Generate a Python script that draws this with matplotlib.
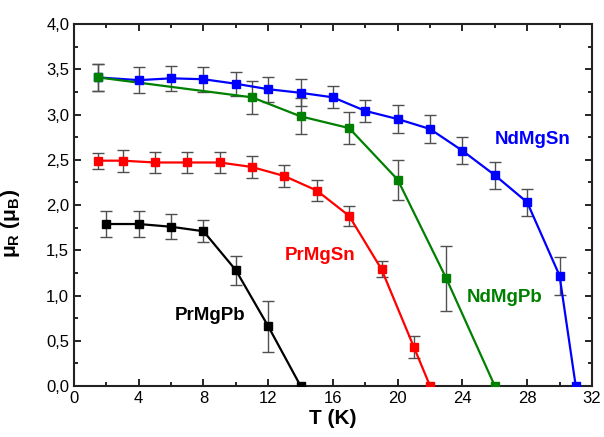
import matplotlib
matplotlib.use("Agg")
import matplotlib.pyplot as plt
from matplotlib.ticker import MultipleLocator, FuncFormatter

plt.rcParams['font.family'] = ['Liberation Sans', 'DejaVu Sans']
plt.rcParams['mathtext.fontset'] = 'custom'
plt.rcParams['mathtext.rm'] = 'Liberation Sans'
plt.rcParams['mathtext.bf'] = 'Liberation Sans:bold'

# NdMgSn (blue)
ndsn_T = [1.5, 4, 6, 8, 10, 12, 14, 16, 18, 20, 22, 24, 26, 28, 30, 31]
ndsn_m = [3.41, 3.38, 3.40, 3.39, 3.34, 3.28, 3.24, 3.19, 3.04, 2.95, 2.84, 2.60, 2.33, 2.03, 1.22, 0.0]
ndsn_e = [0.15, 0.14, 0.14, 0.14, 0.13, 0.14, 0.15, 0.12, 0.12, 0.15, 0.15, 0.15, 0.15, 0.15, 0.21, 0.0]

# NdMgPb (green)
ndpb_T = [1.5, 11, 14, 17, 20, 23, 26]
ndpb_m = [3.41, 3.19, 2.98, 2.85, 2.28, 1.19, 0.0]
ndpb_e = [0.15, 0.18, 0.20, 0.18, 0.22, 0.36, 0.0]

# PrMgSn (red)
prsn_T = [1.5, 3, 5, 7, 9, 11, 13, 15, 17, 19, 21, 22]
prsn_m = [2.49, 2.49, 2.47, 2.47, 2.47, 2.42, 2.32, 2.16, 1.88, 1.29, 0.43, 0.0]
prsn_e = [0.09, 0.12, 0.12, 0.12, 0.12, 0.12, 0.12, 0.12, 0.11, 0.09, 0.12, 0.0]

# PrMgPb (black)
prpb_T = [2, 4, 6, 8, 10, 12, 14]
prpb_m = [1.79, 1.79, 1.76, 1.71, 1.28, 0.66, 0.0]
prpb_e = [0.14, 0.14, 0.14, 0.12, 0.16, 0.28, 0.0]

series = [
    (ndsn_T, ndsn_m, ndsn_e, '#0000FF', 'NdMgSn', (28.35, 2.72)),
    (ndpb_T, ndpb_m, ndpb_e, '#008000', 'NdMgPb', (26.6, 0.98)),
    (prsn_T, prsn_m, prsn_e, '#FF0000', 'PrMgSn', (15.2, 1.44)),
    (prpb_T, prpb_m, prpb_e, '#000000', 'PrMgPb', (8.4, 0.78)),
]

fig = plt.figure(figsize=(6.04, 4.37), dpi=100)
ax = fig.add_axes([0.1225, 0.1167, 0.8575, 0.8283])

for T, m, e, c, name, pos in series:
    ax.errorbar(T, m, yerr=e, fmt='none', ecolor='#505050', elinewidth=1.0,
                capsize=4.5, capthick=1.0, zorder=2)
    ax.plot(T, m, '-', color=c, lw=1.6, zorder=3)
    ax.plot(T, m, 's', color=c, ms=6, zorder=4)
    ax.text(pos[0], pos[1], name, color=c, fontsize=13.5, fontweight='bold',
            ha='center', va='center')

ax.set_xlim(0, 32)
ax.set_ylim(0, 4.0)
ax.xaxis.set_major_locator(MultipleLocator(4))
ax.xaxis.set_minor_locator(MultipleLocator(2))
ax.yaxis.set_major_locator(MultipleLocator(0.5))
ax.yaxis.set_minor_locator(MultipleLocator(0.25))
ax.yaxis.set_major_formatter(FuncFormatter(lambda v, p: f"{v:.1f}".replace('.', ',')))
ax.tick_params(which='both', direction='in', top=True, right=True, labelsize=12, width=1.2)
ax.tick_params(which='major', length=5)
ax.tick_params(which='minor', length=3)
for s in ax.spines.values():
    s.set_linewidth(1.5)
    s.set_color('#222222')

ax.set_xlabel('T (K)', fontsize=15, fontweight='bold', labelpad=2)
ax.set_ylabel(r'μ$_\mathbf{R}$ (μ$_\mathbf{B}$)', fontsize=15, fontweight='bold')
ax.yaxis.set_label_coords(-0.1, 0.45)

fig.savefig('out.png', dpi=100)
